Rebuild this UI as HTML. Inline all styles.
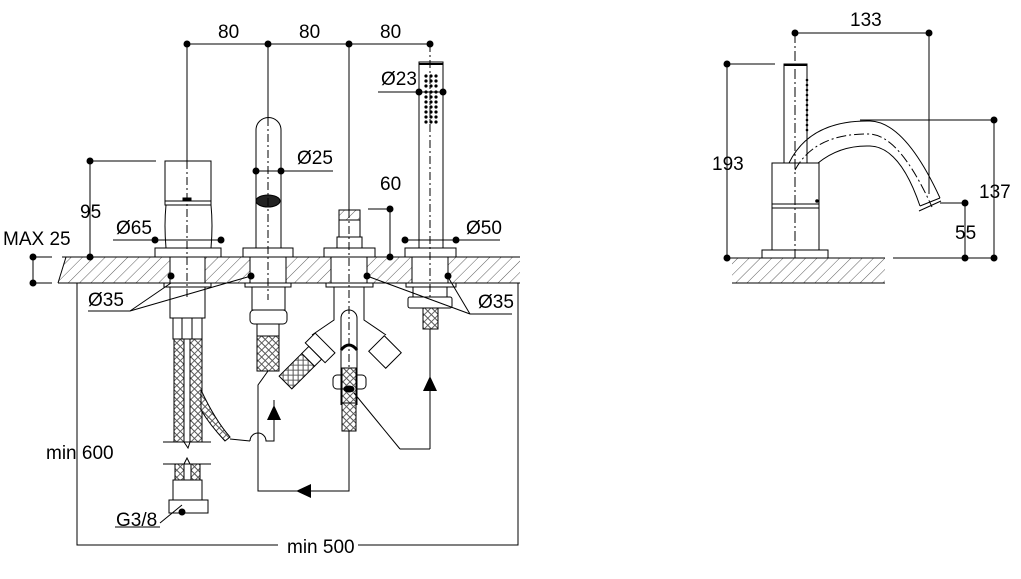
<!DOCTYPE html>
<html><head><meta charset="utf-8"><style>
html,body{margin:0;padding:0;background:#fff;}
svg{display:block;}
text{font-family:"Liberation Sans",sans-serif;font-size:19px;fill:#000;}
</style></head><body>
<svg width="1021" height="579" viewBox="0 0 1021 579" xmlns="http://www.w3.org/2000/svg">
<defs>
<pattern id="h" width="8" height="8" patternUnits="userSpaceOnUse" patternTransform="rotate(45)">
<line x1="0" y1="0" x2="0" y2="8" stroke="#333" stroke-width="0.8"/></pattern>
<pattern id="b" width="5" height="5" patternUnits="userSpaceOnUse" patternTransform="rotate(45)">
<rect width="5" height="5" fill="#fff"/><path d="M0 2.5H2.5V0M2.5 5V2.5H5" stroke="#555" stroke-width="0.9" fill="none"/></pattern>
</defs>
<g stroke="#000" stroke-width="1" fill="none">
<path d="M66 257 L520 257 L520 283 L58 283 Z" fill="url(#h)" stroke="none"/>
<line x1="62" y1="257" x2="520" y2="257"/><line x1="58" y1="283" x2="520" y2="283"/>
<line x1="66" y1="257" x2="58" y2="283"/>
<rect x="170" y="257" width="35" height="26" fill="#fff"/>
<rect x="250" y="257" width="36" height="26" fill="#fff"/>
<rect x="331" y="257" width="36" height="26" fill="#fff"/>
<rect x="412" y="257" width="36" height="26" fill="#fff"/>
<line x1="187" y1="44" x2="430" y2="44"/>
<line x1="187" y1="44" x2="187" y2="161"/><line x1="268" y1="44" x2="268" y2="118"/>
<line x1="349" y1="44" x2="349" y2="210"/>
<rect x="165" y="161" width="46" height="44" fill="#fff"/>
<line x1="165" y1="201" x2="211" y2="201"/>
<path d="M166 205 Q164 225 166 248 M211 205 Q213 225 211 248"/>
<rect x="155" y="248" width="66" height="9" fill="#fff"/>
<line x1="187" y1="161" x2="187" y2="300" stroke-dasharray="8 3 2 3"/>
<rect x="183" y="198" width="8" height="2" fill="#000"/>
<path d="M256 248 L256 130 A12.5 12.5 0 0 1 281 130 L281 248"/>
<rect x="243" y="248" width="50" height="9" fill="#fff"/>
<ellipse cx="268" cy="201" rx="12" ry="6" fill="#222"/>
<line x1="268" y1="118" x2="268" y2="300" stroke-dasharray="8 3 2 3"/>
<rect x="339" y="210" width="21" height="10" fill="url(#h)"/>
<rect x="339" y="220" width="21" height="17"/>
<rect x="337" y="237" width="25" height="11"/>
<rect x="324" y="248" width="51" height="9" fill="#fff"/>
<line x1="349" y1="210" x2="349" y2="440" stroke-dasharray="8 3 2 3"/>
<rect x="419" y="62" width="24" height="186"/>
<line x1="419" y1="64" x2="443" y2="64" stroke-width="2"/>
<g fill="#000" stroke="none">
<circle cx="426" cy="76" r="1.6"/><circle cx="431" cy="76" r="1.6"/><circle cx="436" cy="76" r="1.6"/>
<circle cx="426" cy="81" r="1.6"/><circle cx="431" cy="81" r="1.6"/><circle cx="436" cy="81" r="1.6"/>
<circle cx="426" cy="86" r="1.6"/><circle cx="431" cy="86" r="1.6"/><circle cx="436" cy="86" r="1.6"/>
<circle cx="426" cy="92" r="1.6"/><circle cx="431" cy="92" r="1.6"/><circle cx="436" cy="92" r="1.6"/>
<circle cx="426" cy="97" r="1.6"/><circle cx="431" cy="97" r="1.6"/><circle cx="436" cy="97" r="1.6"/>
<circle cx="426" cy="102" r="1.6"/><circle cx="431" cy="102" r="1.6"/><circle cx="436" cy="102" r="1.6"/>
<circle cx="426" cy="107" r="1.6"/><circle cx="431" cy="107" r="1.6"/><circle cx="436" cy="107" r="1.6"/>
<circle cx="426" cy="112" r="1.6"/><circle cx="431" cy="112" r="1.6"/><circle cx="436" cy="112" r="1.6"/>
<circle cx="426" cy="117" r="1.6"/><circle cx="431" cy="117" r="1.6"/><circle cx="436" cy="117" r="1.6"/>
<circle cx="426" cy="122" r="1.6"/><circle cx="431" cy="122" r="1.6"/><circle cx="436" cy="122" r="1.6"/>
</g>
<rect x="405" y="248" width="51" height="9" fill="#fff"/>
<line x1="430" y1="44" x2="430" y2="300" stroke-dasharray="8 3 2 3"/>
<line x1="378" y1="92" x2="443" y2="92"/>
<line x1="256" y1="171" x2="333" y2="171"/>
<line x1="368" y1="209" x2="390" y2="209"/><line x1="390" y1="209" x2="390" y2="257"/>
<line x1="90" y1="161" x2="156" y2="161"/><line x1="90" y1="161" x2="90" y2="257"/>
<line x1="113" y1="240" x2="221" y2="240"/>
<line x1="405" y1="240" x2="500" y2="240"/>
<line x1="33" y1="257" x2="52" y2="257"/><line x1="33" y1="283" x2="52" y2="283"/><line x1="33" y1="257" x2="33" y2="283"/>
<line x1="88" y1="311" x2="130" y2="311"/>
<line x1="130" y1="311" x2="171" y2="283"/><line x1="130" y1="311" x2="251" y2="276"/>
<line x1="470" y1="314" x2="512" y2="314"/>
<line x1="470" y1="314" x2="448" y2="277"/><line x1="470" y1="314" x2="367" y2="276"/>
<rect x="164" y="283" width="47" height="4"/><rect x="170" y="287" width="35" height="31"/>
<rect x="173" y="318" width="29" height="21"/>
<line x1="182" y1="318" x2="182" y2="339"/><line x1="192" y1="318" x2="192" y2="339"/>
<rect x="174" y="339" width="10" height="103" fill="url(#b)"/>
<rect x="190" y="339" width="12" height="103" fill="url(#b)"/>
<path d="M201 390 Q215 420 230 437 L225 441 Q210 425 201 410 Z" fill="url(#b)"/>
<path d="M163 442 H211 M184 442 L188 448 L190 442"/>
<path d="M163 464 H211 M184 464 L187 458 L190 464"/>
<rect x="175" y="464" width="9" height="16" fill="url(#b)"/><rect x="191" y="464" width="9" height="16" fill="url(#b)"/>
<rect x="173" y="480" width="29" height="20"/>
<rect x="169" y="500" width="39" height="13"/>
<line x1="230" y1="439" x2="250" y2="441"/>
<path d="M250 441 A8 8 0 0 1 266 441 L274 441 L274 400"/>
<rect x="245" y="283" width="46" height="4"/><rect x="252" y="287" width="33" height="23"/>
<rect x="250" y="310" width="37" height="14" rx="4"/>
<rect x="257" y="324" width="22" height="12"/>
<rect x="257" y="336" width="22" height="35" fill="url(#b)"/>
<path d="M268 371 L258 385 L258 491 L349 491 L349 430"/>
<rect x="326" y="283" width="47" height="4"/>
<path d="M334 287 V320 L312 335 M364 287 V320 L386 335"/>
<path d="M341 405 V318 A8 8 0 0 1 357 318 V405"/>
<path d="M341 350 Q349 340 357 350" stroke-width="3"/>
<rect x="333" y="375" width="33" height="14" rx="4"/>
<rect x="342" y="368" width="14" height="38" fill="url(#b)"/>
<ellipse cx="349" cy="389" rx="5" ry="3" fill="#000"/>
<rect x="342" y="403" width="14" height="28" fill="url(#b)"/>
<g transform="rotate(45 318 350)"><rect x="304" y="340" width="28" height="14" fill="#fff"/><rect x="309" y="354" width="18" height="10" fill="#fff"/><rect x="309" y="364" width="18" height="32" fill="url(#b)"/></g>
<g transform="rotate(45 385 352)"><rect x="373" y="341" width="24" height="22" fill="#fff"/></g>
<line x1="354" y1="393" x2="400" y2="449"/><line x1="400" y1="449" x2="430" y2="449"/>
<rect x="406" y="283" width="50" height="4"/><rect x="413" y="287" width="34" height="10"/>
<rect x="408" y="297" width="44" height="11" rx="2"/>
<rect x="423" y="308" width="15" height="21" fill="url(#b)"/>
<line x1="430" y1="329" x2="430" y2="449"/>
<path d="M77 283 V545 H278 M358 545 H518 V283"/>
<line x1="160" y1="523" x2="182" y2="505"/><line x1="115" y1="527" x2="160" y2="527"/>
</g>
<g fill="#000">
<circle cx="187" cy="44" r="3.5"/><circle cx="268" cy="44" r="3.5"/><circle cx="349" cy="44" r="3.5"/><circle cx="430" cy="44" r="3.5"/>
<circle cx="419" cy="92" r="3.5"/><circle cx="443" cy="92" r="3.5"/>
<circle cx="256" cy="171" r="3.5"/><circle cx="281" cy="171" r="3.5"/>
<circle cx="390" cy="209" r="3.5"/><circle cx="390" cy="257" r="3.5"/>
<circle cx="90" cy="161" r="3.5"/><circle cx="90" cy="257" r="3.5"/>
<circle cx="155" cy="240" r="3.5"/><circle cx="221" cy="240" r="3.5"/>
<circle cx="405" cy="240" r="3.5"/><circle cx="456" cy="240" r="3.5"/>
<circle cx="33" cy="257" r="3.5"/><circle cx="33" cy="283" r="3.5"/>
<circle cx="171" cy="276" r="3.5"/><circle cx="251" cy="276" r="3.5"/><circle cx="367" cy="276" r="3.5"/><circle cx="448" cy="276" r="3.5"/>
<circle cx="182" cy="512" r="3.5"/>
<polygon points="274,405 267,420 281,420"/>
<polygon points="430,376 423,391 437,391"/>
<polygon points="296,491 311,484 311,498"/>
</g>
<text x="218" y="38">80</text><text x="299" y="38">80</text><text x="380" y="38">80</text>
<text x="381" y="85">Ø23</text><text x="297" y="164">Ø25</text>
<text x="380" y="190">60</text><text x="80" y="218">95</text>
<text x="116" y="234">Ø65</text><text x="466" y="234">Ø50</text>
<text x="3" y="245">MAX 25</text>
<text x="88" y="306">Ø35</text><text x="478" y="308">Ø35</text>
<text x="46" y="459">min 600</text><text x="116" y="526">G3/8</text>
<text x="287" y="553">min 500</text>
<g stroke="#000" stroke-width="1" fill="none">
<rect x="732" y="258" width="153" height="25" fill="url(#h)" stroke="none"/>
<line x1="732" y1="258" x2="885" y2="258"/><line x1="732" y1="283" x2="885" y2="283"/>
<rect x="762" y="250" width="66" height="8" fill="#fff"/>
<rect x="772" y="163" width="47" height="87" fill="#fff"/>
<line x1="772" y1="204" x2="819" y2="204"/><line x1="772" y1="208" x2="819" y2="208"/>
<rect x="784" y="64" width="23" height="99"/>
<line x1="784" y1="65" x2="807" y2="65" stroke-width="2"/>
<path d="M789 163 Q810 120 870 121 Q905 122 940 198"/>
<path d="M818 163 Q840 145 870 146 Q900 147 920 206"/>
<path d="M920 206 L940 198 M919 211 L941 201" />
<path d="M795 170 Q815 133 870 134 Q900 136 932 207" stroke-dasharray="10 3 2 3"/>
<line x1="795" y1="33" x2="795" y2="258" stroke-dasharray="10 3 2 3"/>
<line x1="795" y1="33" x2="929" y2="33"/><line x1="929" y1="33" x2="929" y2="194"/>
<line x1="727" y1="64" x2="775" y2="64"/><line x1="727" y1="64" x2="727" y2="258"/>
<line x1="727" y1="258" x2="732" y2="258"/>
<line x1="860" y1="120" x2="994" y2="120"/><line x1="994" y1="120" x2="994" y2="258"/>
<line x1="940" y1="203" x2="965" y2="203"/><line x1="965" y1="203" x2="965" y2="258"/>
<line x1="893" y1="258" x2="994" y2="258"/>
</g>
<g fill="#000">
<circle cx="807" cy="80" r="1.3"/><circle cx="807" cy="85" r="1.3"/><circle cx="807" cy="90" r="1.3"/><circle cx="807" cy="95" r="1.3"/><circle cx="807" cy="100" r="1.3"/><circle cx="807" cy="105" r="1.3"/><circle cx="807" cy="110" r="1.3"/><circle cx="807" cy="115" r="1.3"/><circle cx="807" cy="120" r="1.3"/><circle cx="807" cy="125" r="1.3"/><circle cx="807" cy="130" r="1.3"/>
<circle cx="795" cy="33" r="3.5"/><circle cx="929" cy="33" r="3.5"/>
<circle cx="727" cy="64" r="3.5"/><circle cx="727" cy="258" r="3.5"/>
<circle cx="994" cy="120" r="3.5"/><circle cx="994" cy="258" r="3.5"/>
<circle cx="965" cy="203" r="3.5"/><circle cx="965" cy="258" r="3.5"/>
<circle cx="817" cy="201" r="1.8"/>
</g>
<text x="850" y="26">133</text><text x="712" y="170">193</text>
<text x="979" y="198">137</text><text x="955" y="239">55</text>
</svg>
</body></html>
